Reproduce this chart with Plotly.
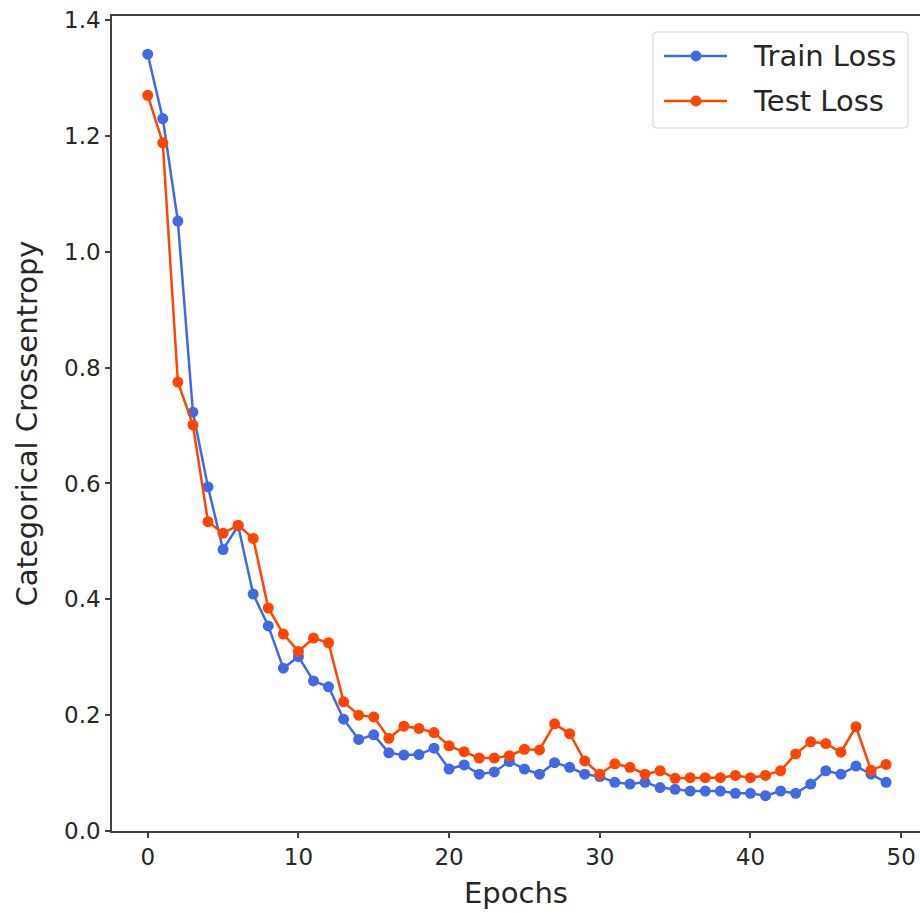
import plotly.graph_objects as go

epochs = list(range(50))
train_loss = [1.341, 1.230, 1.053, 0.723, 0.594, 0.486, 0.527, 0.409, 0.354, 0.281,
              0.301, 0.259, 0.249, 0.193, 0.158, 0.166, 0.135, 0.131, 0.132, 0.143,
              0.107, 0.114, 0.098, 0.102, 0.120, 0.107, 0.098, 0.118, 0.110, 0.098,
              0.094, 0.084, 0.081, 0.084, 0.075, 0.072, 0.069, 0.069, 0.069, 0.065,
              0.065, 0.061, 0.069, 0.065, 0.081, 0.104, 0.098, 0.112, 0.098, 0.084]
test_loss = [1.270, 1.188, 0.775, 0.701, 0.534, 0.514, 0.528, 0.505, 0.385, 0.340,
             0.310, 0.333, 0.325, 0.223, 0.200, 0.197, 0.160, 0.181, 0.177, 0.170,
             0.147, 0.137, 0.126, 0.126, 0.130, 0.141, 0.140, 0.185, 0.168, 0.121,
             0.098, 0.116, 0.110, 0.098, 0.104, 0.091, 0.092, 0.092, 0.092, 0.096,
             0.092, 0.096, 0.104, 0.133, 0.154, 0.151, 0.136, 0.180, 0.105, 0.115]
series_names = ["Train Loss", "Test Loss"]
x_ticks = [0, 10, 20, 30, 40, 50]
y_ticks = [0.0, 0.2, 0.4, 0.6, 0.8, 1.0, 1.2, 1.4]
y_tick_text = ["0.0", "0.2", "0.4", "0.6", "0.8", "1.0", "1.2", "1.4"]

BLUE = "#4169E1"
RED = "#FF4500"
COLORS = [BLUE, RED]
FONT = "DejaVu Sans"
TXT = "#262626"

W, H = 920, 913
ML, MR, MT, MB = 112, 0, 16, 82
PW, PH = W - ML - MR, H - MT - MB


def px(xp):
    return (xp - ML) / PW


def py(yp):
    return (H - MB - yp) / PH


fig = go.Figure()
for name, vals, col in zip(series_names, [train_loss, test_loss], COLORS):
    fig.add_trace(go.Scatter(x=epochs, y=vals, mode="lines+markers", name=name,
                             line=dict(color=col, width=2.5),
                             marker=dict(color=col, size=11),
                             showlegend=False))

# legend (drawn manually to match matplotlib's layout)
bx0, bx1, by0, by1, r = 653, 908, 32, 128, 4
rx, ry = r / PW, r / PH
X0, X1, Y0, Y1 = px(bx0), px(bx1), py(by1), py(by0)
path = (f"M{X0+rx},{Y0} L{X1-rx},{Y0} Q{X1},{Y0} {X1},{Y0+ry} L{X1},{Y1-ry} "
        f"Q{X1},{Y1} {X1-rx},{Y1} L{X0+rx},{Y1} Q{X0},{Y1} {X0},{Y1-ry} "
        f"L{X0},{Y0+ry} Q{X0},{Y0} {X0+rx},{Y0} Z")
shapes = [dict(type="path", xref="paper", yref="paper", path=path,
               fillcolor="rgba(255,255,255,0.8)", line=dict(color="#d6d6d6", width=1.2))]
annotations = []
for i, (name, col) in enumerate(zip(series_names, COLORS)):
    yrow = 56 + i * 45
    shapes.append(dict(type="line", xref="paper", yref="paper",
                       x0=px(664), x1=px(727), y0=py(yrow), y1=py(yrow),
                       line=dict(color=col, width=2.5)))
    shapes.append(dict(type="circle", xref="paper", yref="paper",
                       x0=px(691), x1=px(701), y0=py(yrow + 5), y1=py(yrow - 5),
                       fillcolor=col, line=dict(color=col, width=1)))
    annotations.append(dict(xref="paper", yref="paper", x=px(751), y=py(yrow),
                            xanchor="left", yanchor="middle", showarrow=False,
                            text=name, font=dict(family=FONT, size=29, color=TXT)))

fig.update_layout(
    width=W, height=H,
    margin=dict(l=ML, r=MR, t=MT, b=MB),
    paper_bgcolor="white", plot_bgcolor="white",
    font=dict(family=FONT, size=23, color=TXT),
    showlegend=False,
    shapes=shapes, annotations=annotations,
    xaxis=dict(range=[-2.37, 51.25], tickvals=x_ticks, showgrid=False, zeroline=False,
               showline=True, linecolor="#404040", linewidth=1.5, mirror=True,
               ticks="outside", ticklen=5, tickcolor="#404040", tickwidth=1.5,
               tickfont=dict(family=FONT, size=23, color=TXT),
               title=dict(text="Epochs", font=dict(family=FONT, size=29, color=TXT), standoff=13)),
    yaxis=dict(range=[0, 1.407], tickvals=y_ticks, ticktext=y_tick_text, showgrid=False,
               zeroline=False, showline=True, linecolor="#404040", linewidth=1.5,
               ticks="outside", ticklen=5, tickcolor="#404040", tickwidth=1.5,
               tickfont=dict(family=FONT, size=23, color=TXT),
               title=dict(text="Categorical Crossentropy", font=dict(family=FONT, size=29, color=TXT), standoff=18)),
)

fig.write_html("out.html")
